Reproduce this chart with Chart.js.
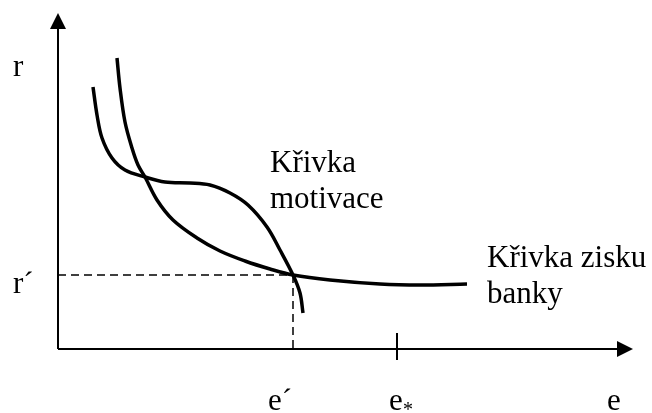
<!DOCTYPE html>
<html>
<head>
<meta charset="utf-8">
<script src="https://cdn.jsdelivr.net/npm/chart.js"></script>
<style>
  html, body { margin: 0; padding: 0; background: #fff; }
  #chart { display: block; }
</style>
</head>
<body>
<canvas id="chart" width="652" height="413"></canvas>
<script>
// curve "Křivka motivace" (e, r)
const motivationE = [0.35, 0.39, 0.44, 0.54, 0.67, 0.87, 1.07, 1.32, 1.52, 1.72, 1.90, 2.09, 2.22, 2.35, 2.42, 2.45];
const motivationR = [2.62, 2.34, 2.11, 1.91, 1.79, 1.72, 1.67, 1.66, 1.64, 1.56, 1.44, 1.22, 0.99, 0.74, 0.56, 0.36];

// curve "Křivka zisku banky" (e, r)
const profitE = [0.59, 0.62, 0.67, 0.74, 0.80, 0.87, 0.99, 1.15, 1.39, 1.62, 1.87, 2.12, 2.35, 2.72, 3.22, 3.62, 4.09];
const profitR = [2.91, 2.61, 2.27, 2.01, 1.84, 1.72, 1.49, 1.29, 1.11, 0.98, 0.88, 0.80, 0.74, 0.69, 0.65, 0.64, 0.65];

// marked values
const ePrime = 2.35;
const rPrime = 0.74;
const eStar = 3.39;
const axisEndE = 5.75;
const axisEndR = 3.36;

const toPoints = (xs, ys) => xs.map((x, i) => ({ x: x, y: ys[i] }));

const FONT = '31px "Liberation Serif", "Times New Roman", serif';

// axes, arrows, dashed guides and text labels
const sketchPlugin = {
    id: 'sketch',
    afterDatasetsDraw(chart) {
        const ctx = chart.ctx;
        const xs = chart.scales.x;
        const ys = chart.scales.y;
        const px = v => xs.getPixelForValue(v);
        const py = v => ys.getPixelForValue(v);
        const ox = px(0), oy = py(0);

        ctx.save();
        ctx.strokeStyle = '#000';
        ctx.fillStyle = '#000';

        // dashed guides
        ctx.lineWidth = 1.5;
        ctx.setLineDash([8, 5]);
        ctx.beginPath();
        ctx.moveTo(ox, py(rPrime));
        ctx.lineTo(px(ePrime), py(rPrime));
        ctx.moveTo(px(ePrime), py(rPrime));
        ctx.lineTo(px(ePrime), oy);
        ctx.stroke();
        ctx.setLineDash([]);

        // axes
        ctx.lineWidth = 2;
        ctx.beginPath();
        ctx.moveTo(ox, oy);
        ctx.lineTo(ox, py(axisEndR) + 14);
        ctx.moveTo(ox, oy);
        ctx.lineTo(px(axisEndE) - 14, oy);
        ctx.stroke();

        // arrow heads
        const tipY = py(axisEndR);
        ctx.beginPath();
        ctx.moveTo(ox, tipY);
        ctx.lineTo(ox - 8, tipY + 16);
        ctx.lineTo(ox + 8, tipY + 16);
        ctx.closePath();
        ctx.fill();
        const tipX = px(axisEndE);
        ctx.beginPath();
        ctx.moveTo(tipX, oy);
        ctx.lineTo(tipX - 16, oy - 8);
        ctx.lineTo(tipX - 16, oy + 8);
        ctx.closePath();
        ctx.fill();

        // tick at e*
        ctx.lineWidth = 2;
        ctx.beginPath();
        ctx.moveTo(px(eStar), oy - 16);
        ctx.lineTo(px(eStar), oy + 11);
        ctx.stroke();

        // labels
        ctx.font = FONT;
        ctx.textBaseline = 'alphabetic';
        ctx.textAlign = 'left';
        ctx.fillText('r', 13, py(axisEndR) + 63);
        ctx.fillText('r\u00B4', 13, py(rPrime) + 18);
        ctx.fillText('e\u00B4', px(ePrime) - 25, 410);
        ctx.fillText('e', px(eStar) - 8, 410);
        ctx.font = '20px "Liberation Serif", "Times New Roman", serif';
        ctx.fillText('*', px(eStar) + 6, 416);
        ctx.font = FONT;
        ctx.fillText('e', px(axisEndE) - 26, 410);

        ctx.fillText('Křivka', 270, 172);
        ctx.fillText('motivace', 270, 208);
        ctx.fillText('Křivka zisku', 487, 267);
        ctx.fillText('banky', 487, 303);

        ctx.restore();
    }
};

new Chart(document.getElementById('chart'), {
    type: 'scatter',
    data: {
        datasets: [
            {
                label: 'Křivka motivace',
                data: toPoints(motivationE, motivationR),
                showLine: true,
                borderColor: '#000',
                borderWidth: 3.5,
                pointRadius: 0,
                tension: 0.35,
                fill: false
            },
            {
                label: 'Křivka zisku banky',
                data: toPoints(profitE, profitR),
                showLine: true,
                borderColor: '#000',
                borderWidth: 3.5,
                pointRadius: 0,
                tension: 0.35,
                fill: false
            }
        ]
    },
    options: {
        responsive: false,
        animation: false,
        layout: { padding: 0 },
        plugins: {
            legend: { display: false },
            tooltip: { enabled: false }
        },
        scales: {
            x: { type: 'linear', display: false, min: -0.58, max: 5.94 },
            y: { type: 'linear', display: false, min: -0.64, max: 3.49 }
        }
    },
    plugins: [sketchPlugin]
});
</script>
</body>
</html>
